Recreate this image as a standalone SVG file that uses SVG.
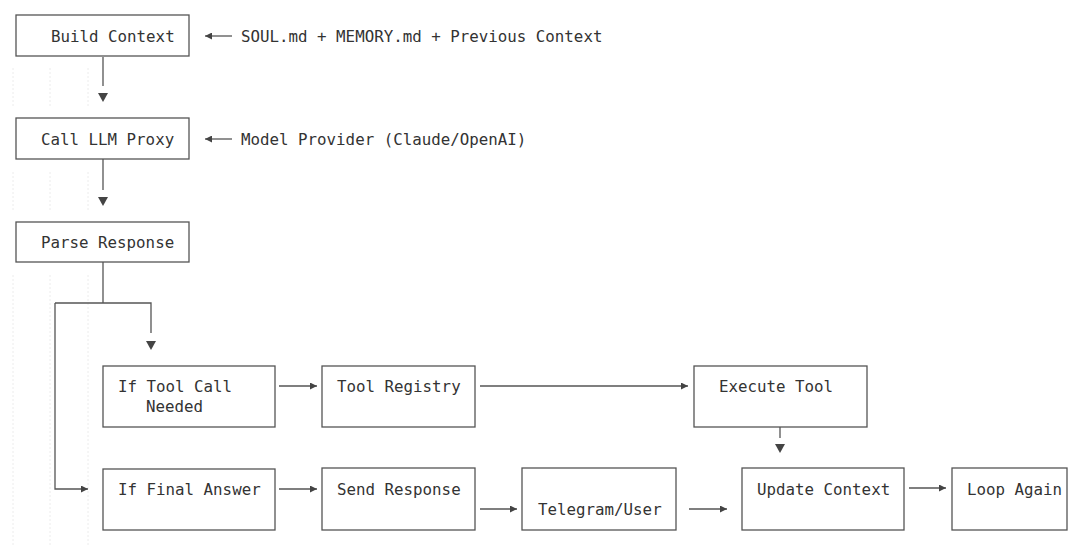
<svg xmlns="http://www.w3.org/2000/svg" width="1080" height="548" viewBox="0 0 1080 548">
<style>
.bg{fill:#ffffff}
.box{fill:#ffffff;stroke:#555555;stroke-width:1.3}
.t{font-family:"DejaVu Sans Mono","Liberation Mono",monospace;font-size:15.8px;fill:#333333}
.ln{fill:none;stroke:#555555;stroke-width:1.3}
.ah{fill:#444444}
.faint{stroke:#ececec;stroke-width:1;stroke-dasharray:2 2;fill:none}
</style>
<defs>
<marker id="arr" viewBox="0 0 10 10" refX="10" refY="5" markerWidth="8" markerHeight="7" markerUnits="userSpaceOnUse" orient="auto">
<path d="M0,0 L10,5 L0,10 z" fill="#444444"/>
</marker>
</defs>
<rect class="bg" x="0" y="0" width="1080" height="548"/>
<g id="grid-artifacts">
<path class="faint" d="M13,68 V108 M50,68 V108 M88,68 V108 M13,172 V212 M50,172 V212 M88,172 V212 M13,275 V545 M50,275 V545 M88,275 V545"/>
</g>
<g id="connectors">
<line class="ln" x1="232" y1="36" x2="205" y2="36" marker-end="url(#arr)"/>
<line class="ln" x1="232" y1="139" x2="205" y2="139" marker-end="url(#arr)"/>
<line class="ln" x1="103" y1="57" x2="103" y2="86"/>
<polygon class="ah" points="98,93 108,93 103,102"/>
<line class="ln" x1="103" y1="159" x2="103" y2="190"/>
<polygon class="ah" points="98,197 108,197 103,206"/>
<polyline class="ln" points="103,262 103,303"/>
<polyline class="ln" points="55,303 151,303 151,333"/>
<polygon class="ah" points="146,341 156,341 151,350"/>
<polyline class="ln" points="55,303 55,489 88,489" marker-end="url(#arr)"/>
<line class="ln" x1="279" y1="386" x2="317" y2="386" marker-end="url(#arr)"/>
<line class="ln" x1="279" y1="489" x2="317" y2="489" marker-end="url(#arr)"/>
<line class="ln" x1="480" y1="386" x2="688" y2="386" marker-end="url(#arr)"/>
<line class="ln" x1="780" y1="427" x2="780" y2="438"/>
<polygon class="ah" points="775,444 785,444 780,453"/>
<line class="ln" x1="480" y1="509" x2="517" y2="509" marker-end="url(#arr)"/>
<line class="ln" x1="689" y1="509" x2="727" y2="509" marker-end="url(#arr)"/>
<line class="ln" x1="909" y1="488" x2="946" y2="488" marker-end="url(#arr)"/>
</g>
<g id="build-context">
<rect class="box" x="16" y="15" width="173" height="41"/>
<text class="t" x="51" y="41.5">Build Context</text>
</g>
<text class="t" x="241" y="41.5">SOUL.md + MEMORY.md + Previous Context</text>
<g id="call-llm-proxy">
<rect class="box" x="16" y="118" width="173" height="41"/>
<text class="t" x="41" y="144.5">Call LLM Proxy</text>
</g>
<text class="t" x="241" y="144.5">Model Provider (Claude/OpenAI)</text>
<g id="parse-response">
<rect class="box" x="16" y="222" width="173" height="40"/>
<text class="t" x="41" y="247.5">Parse Response</text>
</g>
<g id="if-tool-call">
<rect class="box" x="103" y="366" width="172" height="61"/>
<text class="t" x="118" y="391.5">If Tool Call</text>
<text class="t" x="146" y="412">Needed</text>
</g>
<g id="tool-registry">
<rect class="box" x="322" y="366" width="153" height="61"/>
<text class="t" x="337" y="391.5">Tool Registry</text>
</g>
<g id="execute-tool">
<rect class="box" x="694" y="366" width="173" height="61"/>
<text class="t" x="719" y="391.5">Execute Tool</text>
</g>
<g id="if-final-answer">
<rect class="box" x="103" y="469" width="172" height="61"/>
<text class="t" x="118" y="494.5">If Final Answer</text>
</g>
<g id="send-response">
<rect class="box" x="322" y="468" width="153" height="62"/>
<text class="t" x="337" y="494.5">Send Response</text>
</g>
<g id="telegram-user">
<rect class="box" x="522" y="468" width="154" height="62"/>
<text class="t" x="538" y="514.5">Telegram/User</text>
</g>
<g id="update-context">
<rect class="box" x="742" y="468" width="162" height="62"/>
<text class="t" x="757" y="494.5">Update Context</text>
</g>
<g id="loop-again">
<rect class="box" x="952" y="468" width="115" height="62"/>
<text class="t" x="967" y="494.5">Loop Again</text>
</g>
</svg>
